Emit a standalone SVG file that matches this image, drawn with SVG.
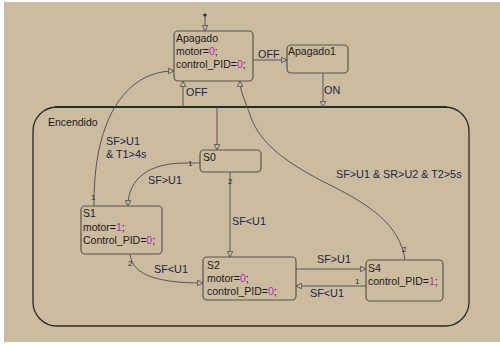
<svg xmlns="http://www.w3.org/2000/svg" width="500" height="345" viewBox="0 0 500 345">
<style>
.st{fill:#ccbc9f;stroke:#5a5548;stroke-width:1.2}
.enc{fill:none;stroke:#2a2a2a;stroke-width:1.3}
.t{font-family:"Liberation Sans",Arial,sans-serif;font-size:10.5px;fill:#1a1a1a}
.l{font-family:"Liberation Sans",Arial,sans-serif;font-size:10.8px;fill:#22224a}
.n{font-family:"Liberation Sans",Arial,sans-serif;font-size:8px;fill:#22224a}
.m{fill:#c020c0}
.c{fill:none;stroke:#4a4a55;stroke-width:0.9}
</style>
<defs>
<marker id="ah" viewBox="0 0 10 10" refX="9" refY="5" markerWidth="7" markerHeight="7" orient="auto" markerUnits="userSpaceOnUse">
<path d="M1,1 L9,5 L1,9 Z" fill="#ccbc9f" stroke="#4a4a55" stroke-width="1.2"/>
</marker>
</defs>
<rect x="0" y="0" width="500" height="345" fill="#ffffff"/>
<rect x="4" y="2" width="496" height="340" fill="#ccbc9f"/>

<g id="Encendido">
<rect class="enc" x="33" y="107" width="436" height="219" rx="24"/>
<line x1="55" y1="107" x2="447" y2="107" stroke="#2a2a2a" stroke-width="1.8"/>
<text class="t" x="48" y="126">Encendido</text>
</g>

<g id="Apagado">
<rect class="st" x="174" y="31" width="79" height="50" rx="4"/>
<text class="t" x="176" y="42">Apagado</text>
<text class="t" x="176" y="55">motor=<tspan class="m">0</tspan>;</text>
<text class="t" x="176" y="68">control_PID=<tspan class="m">0</tspan>;</text>
</g>

<g id="Apagado1">
<rect class="st" x="287" y="45" width="61" height="28" rx="4"/>
<text class="t" x="288" y="55">Apagado1</text>
</g>

<g id="S0">
<rect class="st" x="200" y="150" width="61" height="22" rx="4"/>
<text class="t" x="203" y="161">S0</text>
</g>

<g id="S1">
<rect class="st" x="81" y="206" width="81" height="48" rx="4"/>
<text class="t" x="83" y="217">S1</text>
<text class="t" x="83" y="231">motor=<tspan class="m">1</tspan>;</text>
<text class="t" x="83" y="244">Control_PID=<tspan class="m">0</tspan>;</text>
</g>

<g id="S2">
<rect class="st" x="203" y="257" width="93" height="43" rx="4"/>
<text class="t" x="207" y="269">S2</text>
<text class="t" x="207" y="282">motor=<tspan class="m">0</tspan>;</text>
<text class="t" x="207" y="295">control_PID=<tspan class="m">0</tspan>;</text>
</g>

<g id="S4">
<rect class="st" x="366" y="260" width="77" height="41" rx="4"/>
<text class="t" x="368" y="272">S4</text>
<text class="t" x="368" y="285">control_PID=<tspan class="m">1</tspan>;</text>
</g>

<g id="connectors">
<circle cx="205" cy="15" r="1.6" fill="#1a1a1a"/>
<line class="c" x1="205" y1="15" x2="205" y2="31" marker-end="url(#ah)"/>
<line class="c" x1="253" y1="60" x2="287" y2="60" marker-end="url(#ah)"/>
<text class="l" x="258" y="58">OFF</text>
<line class="c" x1="323" y1="73" x2="323" y2="107" marker-end="url(#ah)"/>
<text class="l" x="324" y="94">ON</text>
<line class="c" x1="183" y1="107" x2="183" y2="81" marker-end="url(#ah)"/>
<text class="l" x="186" y="96">OFF</text>
<line class="c" x1="217" y1="107" x2="217" y2="150" marker-end="url(#ah)"/>

<path class="c" d="M200,163 L185,163 C150,163 128,178 128,206" marker-end="url(#ah)"/>
<text class="n" x="188" y="166">1</text>
<text class="l" x="148" y="184">SF&gt;U1</text>

<path class="c" d="M94,206 C94,170 98,140 112,112 C125,88 145,71 174,71" marker-end="url(#ah)"/>
<text class="n" x="91" y="200">1</text>
<text class="l" x="106" y="145">SF&gt;U1</text>
<text class="l" x="106" y="158">&amp; T1&gt;4s</text>

<line class="c" x1="230" y1="172" x2="230" y2="257" marker-end="url(#ah)"/>
<text class="n" x="228" y="184">2</text>
<text class="l" x="232" y="225">SF&lt;U1</text>

<path class="c" d="M130,254 C132,272 150,283 203,283" marker-end="url(#ah)"/>
<text class="n" x="128" y="266">2</text>
<text class="l" x="154" y="273">SF&lt;U1</text>

<line class="c" x1="296" y1="269" x2="366" y2="269" marker-end="url(#ah)"/>
<text class="l" x="317" y="263">SF&gt;U1</text>

<line class="c" x1="366" y1="286" x2="296" y2="286" marker-end="url(#ah)"/>
<text class="n" x="355" y="284">1</text>
<text class="l" x="310" y="297">SF&lt;U1</text>

<path class="c" d="M405,260 C400,225 370,205 330,185 C290,165 260,145 250,115 C246,102 240,92 240,81" marker-end="url(#ah)"/>
<text class="n" x="402" y="252">2</text>
<text class="l" x="336" y="178">SF&gt;U1 &amp; SR&gt;U2 &amp; T2&gt;5s</text>
</g>
</svg>
